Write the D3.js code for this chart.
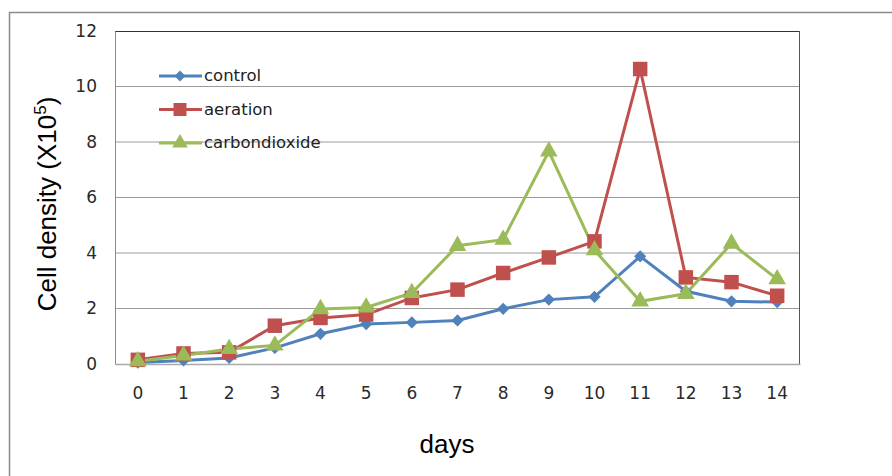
<!DOCTYPE html>
<html>
<head>
<meta charset="utf-8">
<script src="https://cdn.jsdelivr.net/npm/d3@7"></script>
<style>
  body { margin: 0; background: #fff; }
</style>
</head>
<body>
<div id="chart"></div>
<script>
var days = ["0","1","2","3","4","5","6","7","8","9","10","11","12","13","14"];
var control = [0.05, 0.13, 0.22, 0.58, 1.09, 1.44, 1.5, 1.57, 1.99, 2.32, 2.42, 3.88, 2.62, 2.26, 2.23];
var aeration = [0.15, 0.38, 0.42, 1.38, 1.66, 1.78, 2.38, 2.68, 3.28, 3.84, 4.42, 10.63, 3.12, 2.95, 2.46];
var carbondioxide = [0.1, 0.31, 0.54, 0.67, 1.98, 2.04, 2.56, 4.26, 4.48, 7.66, 4.1, 2.26, 2.53, 4.34, 3.06];
var yTicks = [0, 2, 4, 6, 8, 10, 12];

// control markers are squares turned 45 degrees (Excel style diamond)
var series = [
    { name: "control", values: control, color: "#4F81BD", symbol: d3.symbolSquare, size: 75, rot: 45 },
    { name: "aeration", values: aeration, color: "#C0504D", symbol: d3.symbolSquare, size: 210, rot: 0 },
    { name: "carbondioxide", values: carbondioxide, color: "#9BBB59", symbol: d3.symbolTriangle, size: 135, rot: 0 }
];

var W = 892, H = 476;
var margin = { top: 31, left: 115, right: 92, bottom: 112 };
var width = W - margin.left - margin.right,
    height = H - margin.top - margin.bottom;

var svg = d3.select("#chart").append("svg").attr("width", W).attr("height", H);

// outer chart border (runs off the picture at right and bottom)
svg.append("rect")
    .attr("x", 9.5).attr("y", 12.5)
    .attr("width", 900).attr("height", 500)
    .attr("fill", "none").attr("stroke", "#8a8a8a").attr("stroke-width", 1.5);

var x = d3.scaleBand().domain(days).range([0, width]);
var y = d3.scaleLinear().domain([0, 12]).range([height, 0]);

var g = svg.append("g").attr("transform", "translate(" + margin.left + "," + margin.top + ")");

// gridlines
g.selectAll(".grid").data(yTicks.slice(1, -1)).enter().append("line")
    .attr("x1", 0).attr("x2", width)
    .attr("y1", function(d) { return y(d); }).attr("y2", function(d) { return y(d); })
    .attr("stroke", "#9a9a9a").attr("stroke-width", 1);

// plot box
g.append("line").attr("x1", 0).attr("x2", width).attr("y1", 0.5).attr("y2", 0.5).attr("stroke", "#333");
g.append("line").attr("x1", width - 0.5).attr("x2", width - 0.5).attr("y1", 0).attr("y2", height).attr("stroke", "#555");

var yAxis = g.append("g")
    .call(d3.axisLeft(y).tickValues(yTicks).tickSize(0).tickPadding(18));
yAxis.select(".domain").attr("stroke", "#8a8a8a");

var xAxis = g.append("g")
    .attr("transform", "translate(0," + height + ")")
    .call(d3.axisBottom(x).tickSize(0).tickPadding(23));
xAxis.select(".domain").attr("stroke", "#aaa").attr("stroke-width", 1.5);

g.selectAll(".tick text")
    .style("font-family", "'DejaVu Sans', Verdana, sans-serif")
    .style("font-size", "17px")
    .attr("fill", "#2a2a2a");

var line = d3.line()
    .x(function(d, i) { return x(days[i]) + x.bandwidth() / 2; })
    .y(function(d) { return y(d); });

series.forEach(function(s) {
    g.append("path")
        .attr("d", line(s.values))
        .attr("fill", "none")
        .attr("stroke", s.color)
        .attr("stroke-width", 3);
});
series.forEach(function(s) {
    g.selectAll(null).data(s.values).enter().append("path")
        .attr("d", d3.symbol().type(s.symbol).size(s.size))
        .attr("transform", function(d, i) {
            return "translate(" + (x(days[i]) + x.bandwidth() / 2) + "," + y(d) + ") rotate(" + s.rot + ")";
        })
        .attr("fill", s.color);
});

// legend
var legend = svg.append("g");
series.forEach(function(s, i) {
    var ly = 76 + i * 33.5;
    legend.append("line").attr("x1", 159).attr("x2", 202).attr("y1", ly).attr("y2", ly)
        .attr("stroke", s.color).attr("stroke-width", 3);
    legend.append("path").attr("d", d3.symbol().type(s.symbol).size(s.size * 0.8))
        .attr("transform", "translate(180," + ly + ") rotate(" + s.rot + ")").attr("fill", s.color);
    legend.append("text").attr("x", 204).attr("y", ly + 5)
        .style("font-family", "'DejaVu Sans', Verdana, sans-serif").style("font-size", "16.5px")
        .attr("fill", "#222").text(s.name);
});

// axis titles
svg.append("text")
    .attr("x", 447).attr("y", 453)
    .attr("text-anchor", "middle")
    .style("font-family", "'Liberation Sans', Arial, sans-serif").style("font-size", "26px")
    .text("days");

var yt = svg.append("text")
    .attr("transform", "translate(56,204) rotate(-90)")
    .attr("text-anchor", "middle")
    .style("font-family", "'Liberation Sans', Arial, sans-serif").style("font-size", "26px");
yt.append("tspan").text("Cell density (X10");
yt.append("tspan").attr("dy", -10).style("font-size", "17px").text("5");
yt.append("tspan").attr("dy", 10).text(")");
</script>
</body>
</html>
